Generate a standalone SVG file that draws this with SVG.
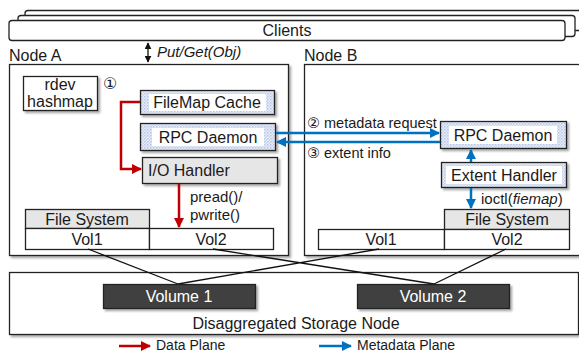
<svg xmlns="http://www.w3.org/2000/svg" width="579" height="353" viewBox="0 0 579 353">
<defs>
<style>
text{font-family:"Liberation Sans","DejaVu Sans",Arial,sans-serif;fill:#1a1a1a}
.lbl{font-size:16px;text-anchor:middle}
.sm{font-size:15px}
.box{fill:#fff;stroke:#222;stroke-width:1.3}
.gray{fill:#e6e6e6;stroke:#222;stroke-width:1.3}
.dark{fill:#3f3f3f;stroke:#222;stroke-width:1.3}
.blue{fill:url(#dots);stroke:#222;stroke-width:1.3}
.red{stroke:#c00000;stroke-width:2.5;fill:none}
.bl{stroke:#0070c0;stroke-width:2.5;fill:none}
.thin{stroke:#111;stroke-width:1.3;fill:none}
</style>
<pattern id="dots" width="3" height="3" patternUnits="userSpaceOnUse">
<rect width="3" height="3" fill="#e9eef8"/>
<rect width="1.5" height="1.5" fill="#b5c6e6"/>
<rect x="1.5" y="1.5" width="1.5" height="1.5" fill="#c9d6ee"/>
</pattern>
<filter id="sh" x="-5%" y="-5%" width="115%" height="125%">
<feDropShadow dx="2" dy="2" stdDeviation="1.2" flood-color="#000" flood-opacity="0.35"/>
</filter>
<marker id="ar" viewBox="0 0 10 10" refX="9" refY="5" markerWidth="10" markerHeight="10" markerUnits="userSpaceOnUse" orient="auto"><path d="M0,0 L10,5 L0,10 z" fill="#c00000"/></marker>
<marker id="ab" viewBox="0 0 10 10" refX="9" refY="5" markerWidth="10" markerHeight="10" markerUnits="userSpaceOnUse" orient="auto"><path d="M0,0 L10,5 L0,10 z" fill="#0070c0"/></marker>
<marker id="ak" viewBox="0 0 10 10" refX="9" refY="5" markerWidth="7" markerHeight="7" markerUnits="userSpaceOnUse" orient="auto-start-reverse"><path d="M0,0 L10,5 L0,10 z" fill="#111"/></marker>
</defs>
<rect width="579" height="353" fill="#fff"/>

<g id="clients">
<rect x="25" y="10.5" width="575" height="20" rx="3" class="box"/>
<rect x="18" y="15.5" width="557" height="21" rx="3" class="box"/>
<rect x="9" y="20.5" width="556" height="20" rx="3" class="box"/>
<text x="287" y="36" class="lbl">Clients</text>
</g>

<g id="nodeA">
<text x="9" y="61" font-size="16">Node A</text>
<rect x="9.5" y="64.5" width="279" height="191" class="box" filter="url(#sh)"/>
</g>
<g id="nodeB">
<text x="304" y="61" font-size="16">Node B</text>
<rect x="304.5" y="64.5" width="290" height="191" class="box" filter="url(#sh)"/>
</g>

<g id="rdev">
<rect x="23.5" y="76.5" width="74" height="34" class="box" filter="url(#sh)"/>
<text x="60" y="90" class="lbl" font-size="14">rdev</text>
<text x="60" y="107" class="lbl" font-size="14">hashmap</text>
</g>
<g id="step1"><text x="103" y="89" font-size="16">①</text></g>

<g id="filemap">
<rect x="140.5" y="90.5" width="134" height="24" class="blue" filter="url(#sh)"/>
<rect x="149" y="94" width="117" height="17" fill="#fff"/>
<text x="207" y="108" class="lbl">FileMap Cache</text>
</g>
<g id="rpcA">
<rect x="140.5" y="123.5" width="135" height="27" class="blue" filter="url(#sh)"/>
<rect x="152" y="128" width="112" height="18" fill="#fff"/>
<text x="208" y="143" class="lbl">RPC Daemon</text>
</g>
<g id="iohandler">
<rect x="142.5" y="157.5" width="135" height="26" class="gray" filter="url(#sh)"/>
<text x="148" y="176" font-size="16">I/O Handler</text>
</g>
<g id="fsA">
<rect x="25.5" y="209.5" width="124" height="19" class="gray"/>
<text x="87" y="225" class="lbl">File System</text>
</g>
<g id="vol1A">
<rect x="25.5" y="228.5" width="124" height="21" class="box"/>
<text x="87" y="245" class="lbl">Vol1</text>
</g>
<g id="vol2A">
<rect x="149.5" y="228.5" width="124" height="21" class="box"/>
<text x="211" y="245" class="lbl">Vol2</text>
</g>

<g id="rpcB">
<rect x="440.5" y="121.5" width="126" height="27" class="blue" filter="url(#sh)"/>
<rect x="449" y="126" width="108" height="18" fill="#fff"/>
<text x="503" y="141" class="lbl">RPC Daemon</text>
</g>
<g id="extent">
<rect x="441.5" y="162.5" width="125" height="25" class="blue" filter="url(#sh)"/>
<rect x="446" y="166" width="116" height="18" fill="#fff"/>
<text x="504" y="181" class="lbl">Extent Handler</text>
</g>
<g id="fsB">
<rect x="444.5" y="209.5" width="125" height="20" class="gray"/>
<text x="507" y="225" class="lbl">File System</text>
</g>
<g id="vol1B">
<rect x="318.5" y="229.5" width="126" height="20" class="box"/>
<text x="381" y="245" class="lbl">Vol1</text>
</g>
<g id="vol2B">
<rect x="444.5" y="229.5" width="125" height="20" class="box"/>
<text x="507" y="245" class="lbl">Vol2</text>
</g>

<g id="storage">
<rect x="9.5" y="272.5" width="569" height="62" class="box" filter="url(#sh)"/>
<text x="296" y="329" class="lbl">Disaggregated Storage Node</text>
</g>

<g id="connectors">
<path class="thin" d="M88,249 L178,284 M379,249 L178,284 M213,249 L434,284 M506,249 L434,284"/>
<path class="thin" d="M148,43 V62" marker-start="url(#ak)" marker-end="url(#ak)"/>
<path class="red" d="M140,102 H121 V169 H141" marker-end="url(#ar)"/>
<path class="red" d="M179,184 V227" marker-end="url(#ar)"/>
<path class="bl" d="M276,133 H439" marker-end="url(#ab)"/>
<path class="bl" d="M440,142 H277" marker-end="url(#ab)"/>
<path class="bl" d="M471,162 V150" marker-end="url(#ab)"/>
<path class="bl" d="M471,188 V208" marker-end="url(#ab)"/>
<path class="red" d="M119,346 H150" marker-end="url(#ar)"/>
<path class="bl" d="M319,346 H351" marker-end="url(#ab)"/>
</g>

<g id="volume1">
<rect x="103.5" y="284.5" width="152" height="24" class="dark" filter="url(#sh)"/>
<text x="179" y="302" class="lbl" style="fill:#fff">Volume 1</text>
</g>
<g id="volume2">
<rect x="357.5" y="284.5" width="152" height="24" class="dark" filter="url(#sh)"/>
<text x="433" y="302" class="lbl" style="fill:#fff">Volume 2</text>
</g>

<g id="labels">
<text x="157" y="57" class="sm" font-style="italic">Put/Get(Obj)</text>
<text x="190" y="202" class="sm">pread()/</text>
<text x="190" y="220" class="sm">pwrite()</text>
<text x="307" y="128" font-size="14.5">② metadata request</text>
<text x="307" y="158" font-size="14.5">③ extent info</text>
<text x="481" y="204" class="sm">ioctl(<tspan font-style="italic">fiemap</tspan>)</text>
<text x="156" y="350" font-size="14">Data Plane</text>
<text x="357" y="350" font-size="14">Metadata Plane</text>
</g>
</svg>
